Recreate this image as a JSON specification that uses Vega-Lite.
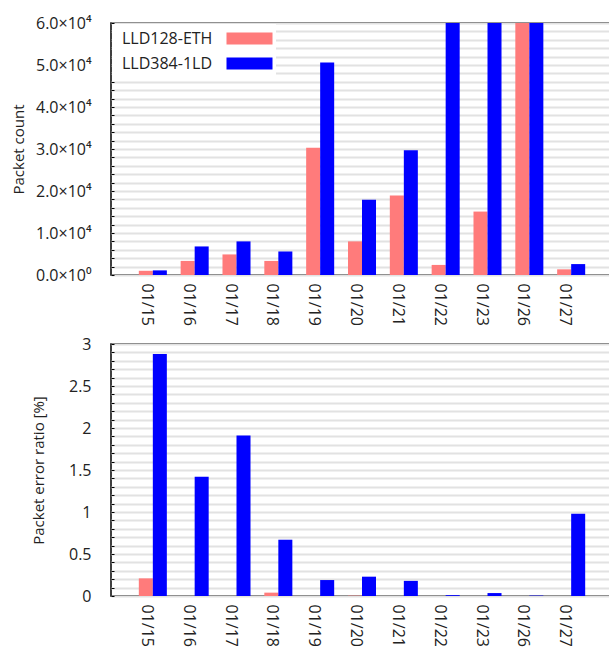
{
  "$schema": "https://vega.github.io/schema/vega-lite/v6.json",
  "padding": {"left": 10, "top": 14, "right": 0, "bottom": 0},
  "spacing": 8,
  "config": {
    "font": "Open Sans",
    "view": {"stroke": "#000", "strokeWidth": 1.5},
    "axis": {
      "labelFont": "Open Sans",
      "labelFontSize": 16,
      "labelColor": "#222",
      "titleFont": "Open Sans",
      "titleFontSize": 15,
      "titleFontWeight": "normal",
      "titleColor": "#222",
      "domain": false
    },
    "bar": {"stroke": null}
  },
  "data": {
    "values": [
      {"date": "01/15", "series": "LLD128-ETH", "count": 1000, "per": 0.21},
      {"date": "01/15", "series": "LLD384-1LD", "count": 1100, "per": 2.88},
      {"date": "01/16", "series": "LLD128-ETH", "count": 3350, "per": 0},
      {"date": "01/16", "series": "LLD384-1LD", "count": 6800, "per": 1.42},
      {"date": "01/17", "series": "LLD128-ETH", "count": 4900, "per": 0},
      {"date": "01/17", "series": "LLD384-1LD", "count": 8000, "per": 1.91},
      {"date": "01/18", "series": "LLD128-ETH", "count": 3350, "per": 0.04},
      {"date": "01/18", "series": "LLD384-1LD", "count": 5600, "per": 0.67},
      {"date": "01/19", "series": "LLD128-ETH", "count": 30300, "per": 0},
      {"date": "01/19", "series": "LLD384-1LD", "count": 50600, "per": 0.19},
      {"date": "01/20", "series": "LLD128-ETH", "count": 8000, "per": 0.004},
      {"date": "01/20", "series": "LLD384-1LD", "count": 17900, "per": 0.23},
      {"date": "01/21", "series": "LLD128-ETH", "count": 18900, "per": 0},
      {"date": "01/21", "series": "LLD384-1LD", "count": 29700, "per": 0.18},
      {"date": "01/22", "series": "LLD128-ETH", "count": 2400, "per": 0},
      {"date": "01/22", "series": "LLD384-1LD", "count": 60000, "per": 0.01},
      {"date": "01/23", "series": "LLD128-ETH", "count": 15100, "per": 0},
      {"date": "01/23", "series": "LLD384-1LD", "count": 60000, "per": 0.035},
      {"date": "01/26", "series": "LLD128-ETH", "count": 60000, "per": 0},
      {"date": "01/26", "series": "LLD384-1LD", "count": 60000, "per": 0.005},
      {"date": "01/27", "series": "LLD128-ETH", "count": 1350, "per": 0},
      {"date": "01/27", "series": "LLD384-1LD", "count": 2600, "per": 0.98}
    ]
  },
  "resolve": {"scale": {"color": "independent"}, "legend": {"color": "independent"}},
  "vconcat": [
    {
      "width": 502,
      "height": 252,
      "mark": {"type": "bar"},
      "encoding": {
        "x": {
          "field": "date", "type": "nominal", "sort": null,
          "scale": {"paddingInner": 0.33, "paddingOuter": 0.665},
          "axis": {"title": null, "labelAngle": 90, "ticks": false, "labelPadding": 8, "labelOffset": -6, "grid": false}
        },
        "xOffset": {"field": "series", "type": "nominal", "sort": ["LLD128-ETH", "LLD384-1LD"]},
        "y": {
          "field": "count", "type": "quantitative",
          "scale": {"domain": [0, 60000], "nice": false},
          "axis": {
            "title": "Packet count",
            "titlePadding": 9,
            "values": [0,2000,4000,6000,8000,10000,12000,14000,16000,18000,20000,22000,24000,26000,28000,30000,32000,34000,36000,38000,40000,42000,44000,46000,48000,50000,52000,54000,56000,58000,60000],
            "labelExpr": "datum.value == 0 ? '0.0×10⁰' : (datum.value % 10000 == 0 ? format(datum.value / 10000, '.1f') + '×10⁴' : '')",
            "grid": true, "gridColor": "#e2e2e2", "gridWidth": 2,
            "tickSize": -3, "tickColor": "#000", "tickWidth": 1,
            "labelPadding": 23
          }
        },
        "color": {
          "field": "series", "type": "nominal",
          "scale": {"domain": ["LLD128-ETH", "LLD384-1LD"], "range": ["#ff7b7b", "#0000ff"]},
          "legend": {
            "title": null,
            "orient": "top-left",
            "offset": 1,
            "padding": 3,
            "fillColor": "#ffffff",
            "labelFont": "Open Sans",
            "labelFontSize": 16,
            "labelColor": "#222",
            "symbolType": "M-2,-0.52H2V0.52H-2Z",
            "symbolSize": 529,
            "symbolStrokeWidth": 0,
            "symbolOpacity": 1,
            "symbolOffset": 123,
            "labelOffset": -139,
            "rowPadding": 5
          }
        }
      }
    },
    {
      "width": 502,
      "height": 252,
      "mark": {"type": "bar"},
      "encoding": {
        "x": {
          "field": "date", "type": "nominal", "sort": null,
          "scale": {"paddingInner": 0.33, "paddingOuter": 0.665},
          "axis": {"title": null, "labelAngle": 90, "ticks": false, "labelPadding": 8, "labelOffset": -6, "grid": false}
        },
        "xOffset": {"field": "series", "type": "nominal", "sort": ["LLD128-ETH", "LLD384-1LD"]},
        "y": {
          "field": "per", "type": "quantitative",
          "scale": {"domain": [0, 3], "nice": false},
          "axis": {
            "title": "Packet error ratio [%]",
            "titlePadding": 22,
            "values": [0,0.1,0.2,0.3,0.4,0.5,0.6,0.7,0.8,0.9,1,1.1,1.2,1.3,1.4,1.5,1.6,1.7,1.8,1.9,2,2.1,2.2,2.3,2.4,2.5,2.6,2.7,2.8,2.9,3],
            "labelExpr": "abs(datum.value * 2 - round(datum.value * 2)) < 0.001 ? format(datum.value, '~g') : ''",
            "grid": true, "gridColor": "#e2e2e2", "gridWidth": 2,
            "tickSize": -3, "tickColor": "#000", "tickWidth": 1,
            "labelPadding": 23
          }
        },
        "color": {
          "field": "series", "type": "nominal",
          "scale": {"domain": ["LLD128-ETH", "LLD384-1LD"], "range": ["#ff7b7b", "#0000ff"]},
          "legend": null
        }
      }
    }
  ]
}
